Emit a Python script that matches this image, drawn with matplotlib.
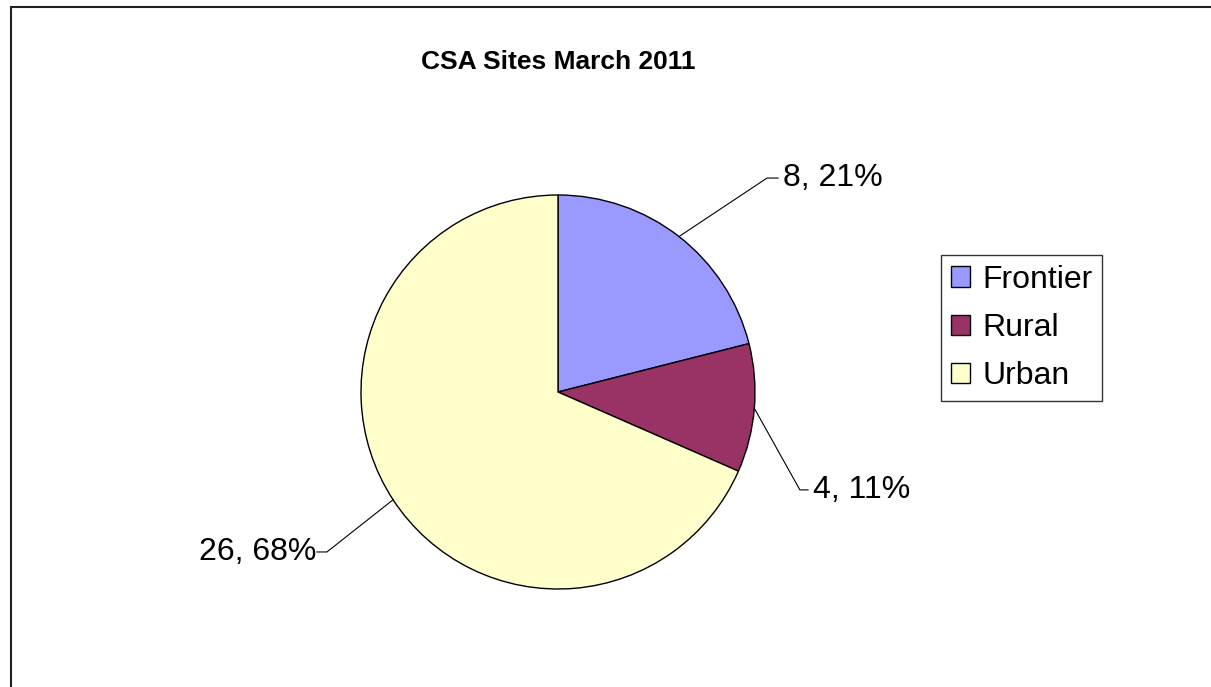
import numpy as np
import matplotlib.pyplot as plt
from matplotlib.patches import Rectangle, Patch

# Data
categories = ['Frontier', 'Rural', 'Urban']
counts = [8, 4, 26]
colors = ['#9999FF', '#993366', '#FFFFCC']

# label placement (leader line elbow / text anchor), in pie-radius units
elbows = [(1.061, 1.086), (1.228, -0.497), (-1.173, -0.812)]
tails = [0.056, 0.041, -0.051]

plt.rcParams['font.family'] = ['Liberation Sans', 'DejaVu Sans']

fig = plt.figure(figsize=(12.11, 6.87), dpi=100)

# outer chart border (right and bottom edges are cut off in the original)
fig.patches.append(Rectangle((11 / 1211, -0.1), 1.2, (687 - 7) / 687 + 0.1,
                             transform=fig.transFigure, fill=False,
                             edgecolor='#222222', lw=1.5))

# pie axes: centre at (558, 392) px, radius 197 px
cx, cy, r = 558, 392, 197
ax = fig.add_axes([(cx - r) / 1211, (687 - cy - r) / 687, 2 * r / 1211, 2 * r / 687])
wedges, _ = ax.pie(counts, colors=colors, startangle=90, counterclock=False,
                   radius=1, wedgeprops=dict(edgecolor='black', linewidth=1))
ax.set_xlim(-1, 1)
ax.set_ylim(-1, 1)
ax.set_aspect('equal')
ax.axis('off')

total = sum(counts)
for w, n, (ex, ey), t in zip(wedges, counts, elbows, tails):
    mid = np.deg2rad((w.theta1 + w.theta2) / 2)
    px, py = np.cos(mid), np.sin(mid)
    ax.plot([px, ex, ex + t], [py, ey, ey], color='black', lw=0.8, clip_on=False)
    label = f'{n}, {round(100 * n / total)}%'
    ha = 'left' if t > 0 else 'right'
    ax.text(ex + t + (0.025 if t > 0 else -0.005), ey, label, ha=ha, va='center',
            fontsize=23)

fig.text(558 / 1211, 1 - 62 / 687, 'CSA Sites March 2011', ha='center', va='center',
         fontsize=19, fontweight='bold')

handles = [Patch(facecolor=c, edgecolor='black', lw=1) for c in colors]
leg = fig.legend(handles, categories, loc='center left',
                 bbox_to_anchor=(941 / 1211, 1 - 328 / 687), fontsize=23,
                 frameon=True, fancybox=False, handlelength=0.6, handleheight=0.6,
                 handletextpad=0.4, labelspacing=0.57, borderpad=0.3,
                 borderaxespad=0)
leg.get_frame().set_edgecolor('black')
leg.get_frame().set_linewidth(1)

fig.savefig('out.png', dpi=100)
